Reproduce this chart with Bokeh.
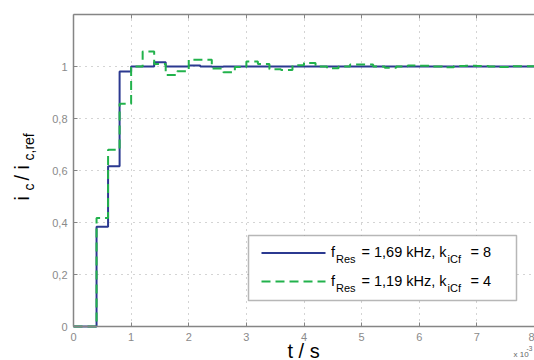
import math
from bokeh.plotting import figure
from bokeh.models import FixedTicker, LinearAxis, Label, BoxAnnotation, Range1d, Grid
from bokeh.embed import file_html
from bokeh.resources import INLINE

# ---------------- data ----------------
t_ms = [0.0, 0.2, 0.4, 0.6, 0.8, 1.0, 1.2, 1.4, 1.6, 1.8,
        2.0, 2.2, 2.4, 2.6, 2.8, 3.0, 3.2, 3.4, 3.6, 3.8,
        4.0, 4.2, 4.4, 4.6, 4.8, 5.0, 5.2, 5.4, 5.6, 5.8,
        6.0, 6.2, 6.4, 6.6, 6.8, 7.0, 7.2, 7.4, 7.6, 7.8, 8.0]

ic_169 = [0.0, 0.0, 0.384, 0.616, 0.981, 1.0, 1.0, 1.016, 1.0, 1.0,
          1.004, 1.0, 0.999, 1.0, 1.0, 1.0, 1.0, 1.0, 1.0, 1.0,
          1.0, 1.0, 1.0, 1.0, 1.0, 1.0, 1.0, 1.0, 1.0, 1.0,
          1.0, 1.0, 1.0, 1.0, 1.0, 1.0, 1.0, 1.0, 1.0, 1.0, 1.0]

ic_119 = [0.0, 0.0, 0.417, 0.68, 0.857, 1.0, 1.058, 1.01, 0.967, 0.982,
          1.026, 1.026, 0.992, 0.978, 0.998, 1.019, 1.01, 0.989, 0.987, 1.005,
          1.013, 1.0, 0.993, 1.0, 1.008, 1.008, 1.0, 0.995, 1.0, 1.004,
          1.003, 1.0, 0.997, 1.002, 1.003, 1.002, 1.0, 0.998, 1.001, 1.001, 1.001]

x_ticks = [0, 1, 2, 3, 4, 5, 6, 7, 8]
y_ticks = [0, 0.2, 0.4, 0.6, 0.8, 1.0]
y_tick_labels = ["0", "0,2", "0,4", "0,6", "0,8", "1"]

XMAX, YMAX = 8.0, 1.2

BLUE = "#2b3990"
GREEN = "#22b24c"
AXIS_GREY = "#858585"
GRID_GREY = "#a8a8a8"
FONT = "Liberation Sans"

W, H = 534, 360
FL, FR, FT, FB = 73.0, 534.0, 14.0, 326.0   # axes box on the page


def dx(px):
    return (px - FL) / (FR - FL) * XMAX


def dy(py):
    return (FB - py) / (FB - FT) * YMAX


# the frame fills the whole canvas; the axes box is placed inside it
p = figure(width=W, height=H, title=None,
           x_range=Range1d(dx(0), dx(W)), y_range=Range1d(dy(H), dy(0)),
           output_backend="svg", toolbar_location=None,
           min_border=0, min_border_left=0, min_border_right=0,
           min_border_top=0, min_border_bottom=0)
p.outline_line_color = None
p.background_fill_color = "white"
p.border_fill_color = "white"

xt = FixedTicker(ticks=x_ticks)
yt = FixedTicker(ticks=y_ticks)


def style_axis(ax):
    ax.axis_line_color = AXIS_GREY
    ax.axis_line_width = 1.5
    ax.major_tick_line_color = AXIS_GREY
    ax.major_tick_in = 4
    ax.major_tick_out = 0
    ax.minor_tick_line_color = None
    ax.major_label_text_color = "#8a8a8a"
    ax.major_label_text_font = FONT
    ax.major_label_text_font_size = "11px"


xa, ya = p.xaxis[0], p.yaxis[0]
style_axis(xa)
style_axis(ya)
xa.ticker = xt
ya.ticker = yt
xa.fixed_location = 0
ya.fixed_location = 0
xa.bounds = (0, XMAX)
ya.bounds = (0, YMAX)
xa.major_label_standoff = 6
ya.major_label_standoff = 6
ya.major_label_overrides = {v: s for v, s in zip(y_ticks, y_tick_labels)}

top = LinearAxis(ticker=FixedTicker(ticks=x_ticks), fixed_location=YMAX,
                 bounds=(0, XMAX))
style_axis(top)
top.major_label_text_font_size = "0px"
top.major_label_text_color = None
p.add_layout(top, "above")

# grid, limited to the axes box
if "cross_bounds" in Grid.properties():
    p.xgrid.ticker = xt
    p.ygrid.ticker = yt
    p.xgrid[0].cross_bounds = (0, YMAX)
    p.ygrid[0].cross_bounds = (0, XMAX)
    for g in (p.xgrid[0], p.ygrid[0]):
        g.grid_line_color = GRID_GREY
        g.grid_line_dash = "1 5"
        g.grid_line_width = 1
else:
    for g in p.grid:
        g.visible = False
    p.segment(x0=x_ticks[1:], y0=[0] * 8, x1=x_ticks[1:], y1=[YMAX] * 8,
              line_color=GRID_GREY, line_dash="1 5", line_width=1)
    p.segment(x0=[0] * 5, y0=y_ticks[1:], x1=[XMAX] * 5, y1=y_ticks[1:],
              line_color=GRID_GREY, line_dash="1 5", line_width=1)

# data
p.step(t_ms, ic_169, mode="after", line_color=BLUE, line_width=2)
p.step(t_ms, ic_119, mode="after", line_color=GREEN, line_width=2,
       line_dash="9 5")

# legend (drawn by hand to allow subscripts)
p.add_layout(BoxAnnotation(left=dx(248), right=dx(516), top=dy(235), bottom=dy(300),
                           fill_color="white", fill_alpha=1.0,
                           line_color="#111111", line_width=1.5, level="annotation"))
sw1 = p.line([dx(261), dx(325)], [dy(252.5), dy(252.5)], line_color=BLUE, line_width=2)
sw2 = p.line([dx(261), dx(325)], [dy(281), dy(281)], line_color=GREEN, line_width=2,
             line_dash="9 5")
sw1.level = "overlay"
sw2.level = "overlay"


def lab(text, px, py, size, angle=0.0, color="black"):
    # (px, py): start of the text, py = vertical middle of the glyphs
    p.add_layout(Label(x=dx(px), y=dy(py), x_units="data", y_units="data",
                       text=text, text_font=FONT, text_font_size=f"{size}px",
                       text_color=color, angle=angle, text_align="left",
                       text_baseline="middle", level="overlay"))


for i, (freq, k) in enumerate([("1,69", "8"), ("1,19", "4")]):
    mid = 251.8 + i * 28.5
    lab("f", 330.5, mid, 14.5)
    lab("Res", 335.5, mid + 7, 11)
    lab(f"= {freq} kHz, k", 361, mid, 14.5)
    lab("iCf", 447, mid + 7, 11)
    lab(f"= {k}", 470, mid, 14.5)

# axis titles
A = math.pi / 2
lab("i", 21, 200, 20, angle=A)
lab("c", 28.5, 190, 14, angle=A)
lab("/ i", 21, 180, 20, angle=A)
lab("c,ref", 28.5, 160, 14, angle=A)

lab("t / s", 287, 350, 20)
lab("x 10", 513, 353.5, 8, color="#666666")
lab("-3", 526, 348, 6.5, color="#666666")

open("out.html", "w").write(file_html(p, INLINE))
